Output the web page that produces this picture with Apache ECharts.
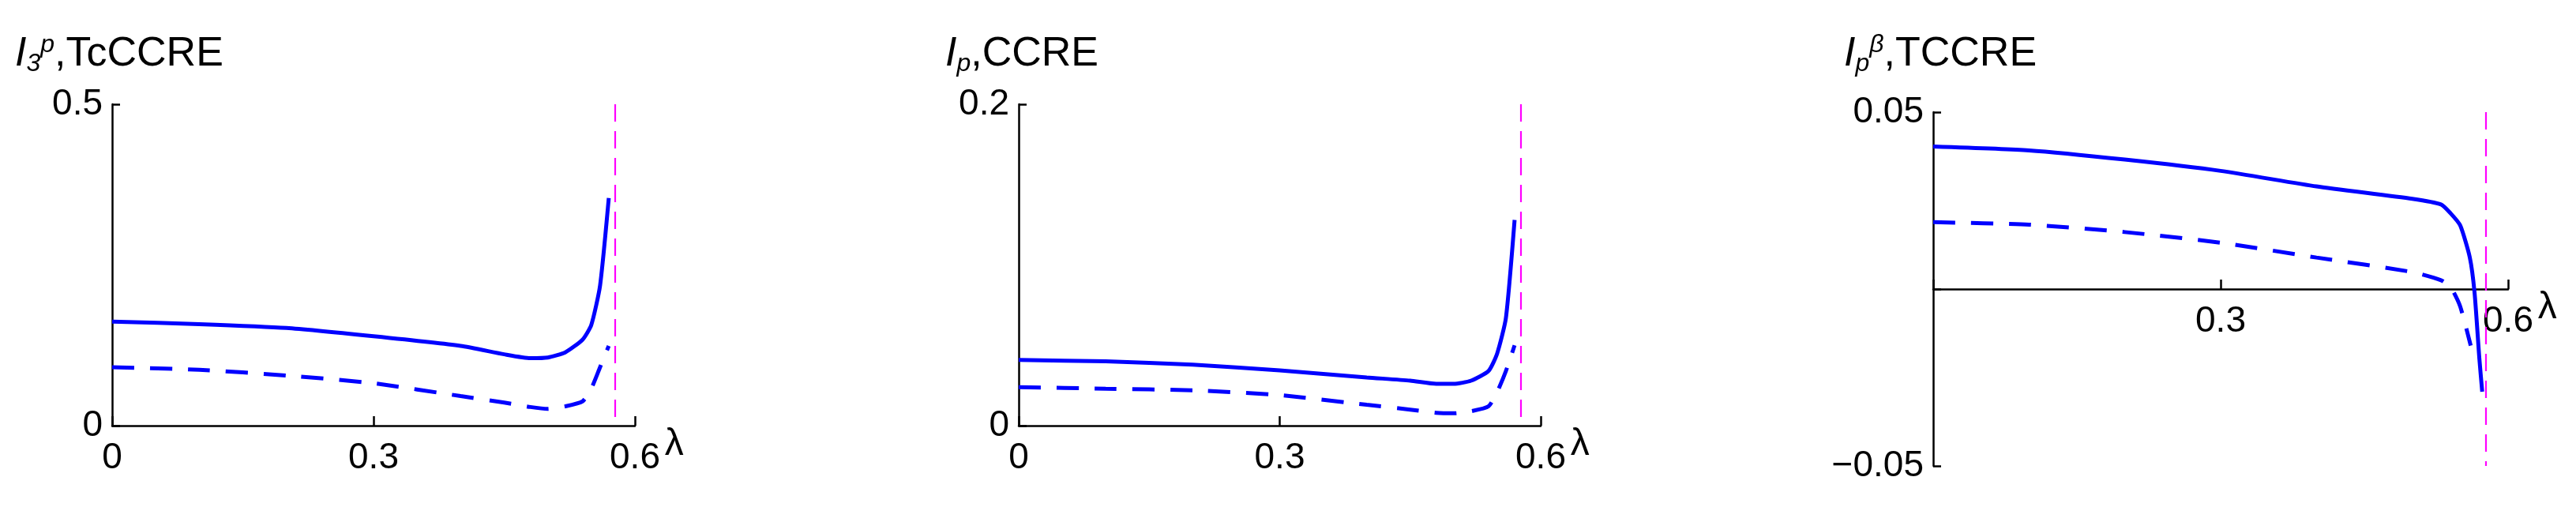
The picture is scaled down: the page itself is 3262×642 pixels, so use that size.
<!DOCTYPE html>
<html><head><meta charset="utf-8">
<script src="https://cdn.jsdelivr.net/npm/echarts@6/dist/echarts.min.js"></script>
<style>html,body{margin:0;padding:0;background:#fff}#c{width:3262px;height:642px}</style>
</head><body><div id="c"></div>
<script>
const xTicks = [0, 0.3, 0.6];
const asymptote = 0.577;
const x1 = [0, 0.1, 0.2, 0.3, 0.4, 0.45, 0.48, 0.5, 0.52, 0.54, 0.55, 0.56, 0.57];
const p1Solid = [0.162, 0.158, 0.152, 0.139, 0.124, 0.111, 0.105, 0.106, 0.114, 0.134, 0.157, 0.218, 0.354];
const p1Dash  = [0.091, 0.087, 0.078, 0.066, 0.046, 0.036, 0.029, 0.026, 0.030, 0.038, 0.058, 0.091, 0.124];
const x2 = [0, 0.1, 0.2, 0.3, 0.4, 0.45, 0.48, 0.5, 0.52, 0.54, 0.55, 0.56, 0.57];
const p2Solid = [0.0409, 0.040, 0.038, 0.0344, 0.030, 0.028, 0.026, 0.026, 0.028, 0.034, 0.045, 0.067, 0.128];
const p2Dash  = [0.024, 0.023, 0.022, 0.019, 0.013, 0.010, 0.008, 0.0077, 0.009, 0.012, 0.021, 0.034, 0.050];
const x3s = [0, 0.1, 0.2, 0.3, 0.4, 0.5, 0.53, 0.54, 0.55, 0.56, 0.565, 0.57, 0.573];
const p3Solid = [0.0403, 0.0392, 0.0366, 0.0334, 0.029, 0.0255, 0.0239, 0.0214, 0.018, 0.009, -0.001, -0.0196, -0.029];
const x3d = [0, 0.1, 0.2, 0.3, 0.4, 0.5, 0.53, 0.54, 0.55, 0.561];
const p3Dash  = [0.0189, 0.0182, 0.0161, 0.0131, 0.0089, 0.0048, 0.0025, 0.0006, -0.0049, -0.016];

const FONT = '"Liberation Sans Narrow","Liberation Sans",Arial,sans-serif';
const zip = (xs, ys) => xs.map((x, i) => [x, ys[i]]);

const grids = [
  {left: 142, top: 132, width: 662, height: 407},
  {left: 1290, top: 132, width: 661, height: 407},
  {left: 2448, top: 142, width: 728, height: 448}
];
const yCfg = [
  {min: 0, max: 0.5, interval: 0.5},
  {min: 0, max: 0.2, interval: 0.2},
  {min: -0.05, max: 0.05, interval: 0.05}
];
const xAxes = grids.map((g, i) => ({
  type: 'value', gridIndex: i, min: 0, max: 0.6, interval: 0.3,
  offset: i === 2 ? -224 : 0,
  name: 'λ', nameLocation: 'end', nameGap: 30,
  nameTextStyle: {fontFamily: FONT, fontSize: 48, color: '#000', padding: [0, 0, -50, 0], verticalAlign: 'top'},
  axisLine: {onZero: false, lineStyle: {color: '#000', width: 2.5}},
  axisTick: {inside: true, length: 12, lineStyle: {color: '#000', width: 2.5}},
  axisLabel: {fontFamily: FONT, fontSize: 46, color: '#000', margin: 18,
    formatter: v => (i === 2 && v === 0) ? '' : String(v)},
  splitLine: {show: false}
}));
const yAxes = yCfg.map((c, i) => ({
  type: 'value', gridIndex: i, min: c.min, max: c.max, interval: c.interval,
  axisLine: {onZero: false, lineStyle: {color: '#000', width: 2.5}},
  axisTick: {inside: true, length: 10, lineStyle: {color: '#000', width: 2.5}},
  axisLabel: {fontFamily: FONT, fontSize: 46, color: '#000', margin: 12,
    formatter: v => (i === 2 && v === 0) ? '' : (v < 0 ? '\u2212' + String(-v) : String(v))},
  splitLine: {show: false}
}));
function line(i, data, dashed, mark) {
  const s = {
    type: 'line', xAxisIndex: i, yAxisIndex: i, data, symbol: 'none',
    smooth: 0.2,
    lineStyle: {color: '#0000ff', width: 5, type: dashed ? [28, 20] : 'solid'}
  };
  if (mark) s.markLine = {
    silent: true, symbol: 'none', label: {show: false},
    lineStyle: {color: '#ff00ff', width: 2.2, type: [22, 12]},
    data: [[{coord: [asymptote, yCfg[i].max]}, {coord: [asymptote, yCfg[i].min]}]]
  };
  return s;
}
const rich = {
  i: {fontFamily: FONT, fontSize: 52, fontStyle: 'italic', fontWeight: 'normal', color: '#000'},
  sup: {fontFamily: FONT, fontSize: 32, fontStyle: 'italic', fontWeight: 'normal', color: '#000', verticalAlign: 'top', padding: [0, 0, 22, 0]},
  sub: {fontFamily: FONT, fontSize: 32, fontStyle: 'italic', fontWeight: 'normal', color: '#000', padding: [24, 0, 0, 0]},
  t: {fontFamily: FONT, fontSize: 52, fontWeight: 'normal', color: '#000'}
};
const titles = [
  {left: 14, top: 36, text: '{i|I}{sub|3}{sup|p}{t|,TcCCRE}'},
  {left: 1192, top: 36, text: '{i|I}{sub|p}{t|,CCRE}'},
  {left: 2330, top: 36, text: '{i|I}{sub|p}{sup|β}{t|,TCCRE}'}
].map(t => ({left: t.left, top: t.top, text: t.text, textStyle: {fontWeight: 'normal', rich}}));

const chart = echarts.init(document.getElementById('c'));
chart.setOption({
  animation: false,
  title: titles,
  grid: grids,
  xAxis: xAxes,
  yAxis: yAxes,
  series: [
    line(0, zip(x1, p1Solid), false, true),
    line(0, zip(x1, p1Dash), true, false),
    line(1, zip(x2, p2Solid), false, true),
    line(1, zip(x2, p2Dash), true, false),
    line(2, zip(x3s, p3Solid), false, true),
    line(2, zip(x3d, p3Dash), true, false)
  ]
});
</script></body></html>
